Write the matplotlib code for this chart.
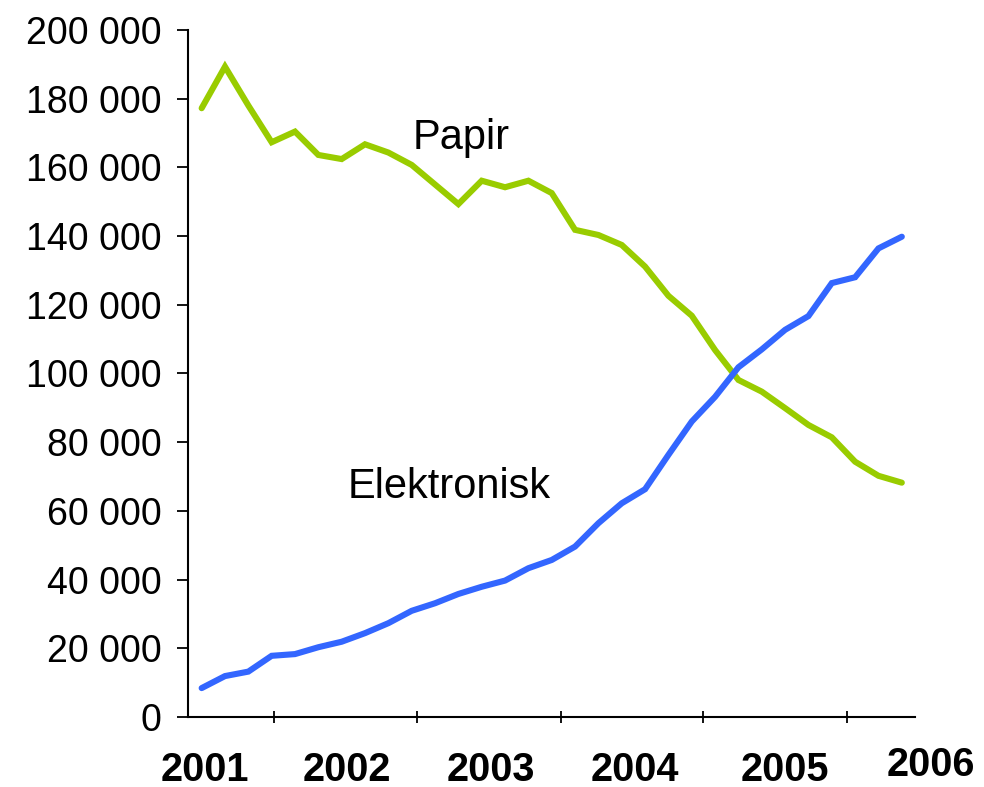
import matplotlib.pyplot as plt
import matplotlib.transforms as mtransforms
from matplotlib.ticker import FuncFormatter

plt.rcParams["font.family"] = ["Liberation Sans", "DejaVu Sans"]

# bimonthly observations, 2001-2006
papir = [177.2, 189.3, 178.0, 167.3, 170.4, 163.6, 162.4, 166.7, 164.3, 160.7,
         155.0, 149.3, 156.1, 154.2, 156.1, 152.5, 141.8, 140.3, 137.4, 131.1,
         122.6, 116.8, 106.8, 98.1, 94.7, 89.9, 85.0, 81.4, 74.3, 70.2, 68.2]
elektronisk = [8.4, 11.9, 13.2, 17.8, 18.3, 20.3, 21.9, 24.4, 27.3, 30.9,
               33.1, 35.8, 37.9, 39.7, 43.3, 45.7, 49.6, 56.4, 62.2, 66.3,
               76.3, 86.0, 93.2, 101.8, 107.0, 112.7, 116.7, 126.3, 128.0, 136.4, 139.8]
papir = [v * 1000 for v in papir]
elektronisk = [v * 1000 for v in elektronisk]
years = ["2001", "2002", "2003", "2004", "2005", "2006"]
year_pos = [0.14, 6.23, 12.4, 18.57, 25.0, 31.25]
year_ticks = [3.1, 9.23, 15.4, 21.5, 27.66]

fig = plt.figure(figsize=(9.84, 7.87), dpi=100)
ax = fig.add_axes([0.191, 0.089, 0.739, 0.873])

x = list(range(len(papir)))
ax.plot(x, papir, color="#99CC00", lw=4.4, solid_capstyle="round", solid_joinstyle="miter")
ax.plot(x, elektronisk, color="#3366FF", lw=4.4, solid_capstyle="round", solid_joinstyle="miter")

ax.set_xlim(-0.587, 30.57)
ax.set_ylim(0, 200000)
ax.set_yticks(range(0, 200001, 20000))
ax.yaxis.set_major_formatter(FuncFormatter(lambda v, p: f"{int(v):,}".replace(",", " ")))
ax.tick_params(axis="y", labelsize=27, length=8, width=1.3, direction="out", pad=11)

ax.set_xticks(year_ticks)
ax.set_xticklabels([])
ax.tick_params(axis="x", length=9, width=1.3, direction="inout")

for s in ["top", "right"]:
    ax.spines[s].set_visible(False)
for s in ["left", "bottom"]:
    ax.spines[s].set_linewidth(1.5)

trans = mtransforms.blended_transform_factory(ax.transData, ax.transAxes)
for lab, xp in zip(years, year_pos):
    yp = -0.070 if lab == "2006" else -0.077
    ax.text(xp, yp, lab, transform=trans, ha="center", va="center",
            fontsize=28.5, fontweight="bold", clip_on=False)

ax.text(11.1, 168500, "Papir", fontsize=30, ha="center", va="center")
ax.text(10.6, 67000, "Elektronisk", fontsize=30, ha="center", va="center")

fig.savefig("out.png", dpi=100)
